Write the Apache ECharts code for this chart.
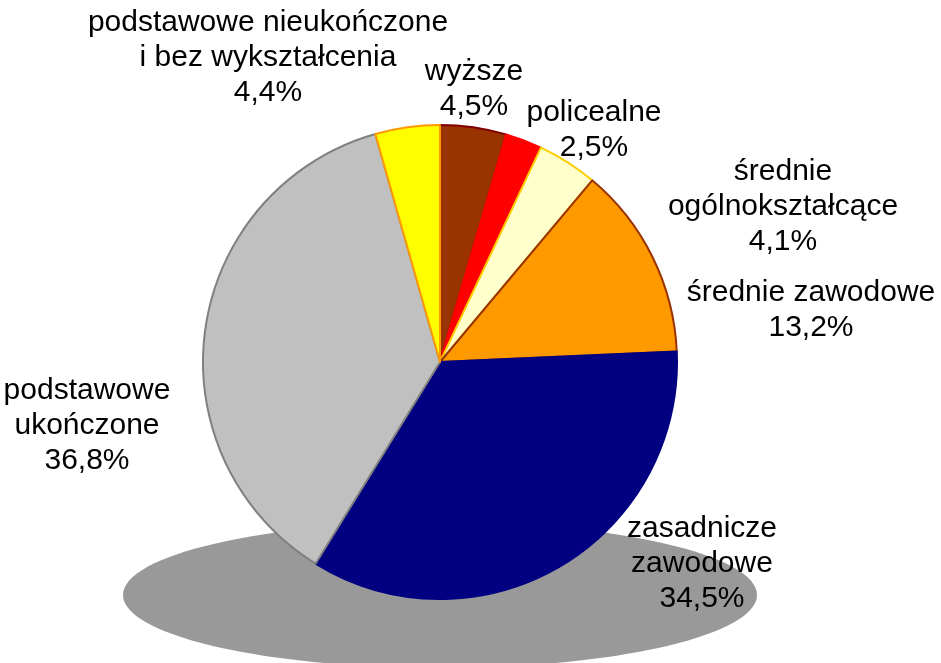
<!DOCTYPE html>
<html>
<head>
<meta charset="utf-8">
<script src="https://cdn.jsdelivr.net/npm/echarts@6/dist/echarts.min.js"></script>
<style>
  html, body { margin: 0; padding: 0; background: #fff; }
  #chart { width: 941px; height: 663px; }
</style>
</head>
<body>
<div id="chart"></div>
<script>
// kategorie (kolejnosc od godz. 12, zgodnie z ruchem wskazowek)
const categories = [
  'wyższe',
  'policealne',
  'średnie\nogólnokształcące',
  'średnie zawodowe',
  'zasadnicze\nzawodowe',
  'podstawowe\nukończone',
  'podstawowe nieukończone\ni bez wykształcenia'
]
const shares = [4.5, 2.5, 4.1, 13.2, 34.5, 36.8, 4.4]

const fillColors = ['#993300', '#ff0000', '#ffffcc', '#ff9900', '#000080', '#c0c0c0', '#ffff00']
const borderColors = ['#800000', '#ff0000', '#ffcc00', '#993300', '#000080', '#808080', '#ff9900']
// srodki etykiet (px)
const labelPos = [
  [474, 89], [594, 130], [783, 207], [811, 310], [702, 564], [87, 426], [268, 58]
]

const chart = echarts.init(document.getElementById('chart'))

const option = {
  animation: false,
  graphic: [
    {
      type: 'ellipse',
      z: -10,
      shape: { cx: 440, cy: 595, rx: 317, ry: 73 },
      style: { fill: '#999999' }
    }
  ],
  series: [
    {
      type: 'pie',
      center: [440, 362],
      radius: 237,
      startAngle: 90,
      clockwise: true,
      z: 2,
      data: categories.map((name, i) => ({
        name,
        value: shares[i],
        itemStyle: { color: fillColors[i], borderColor: borderColors[i], borderWidth: 2 }
      })),
      label: {
        show: true,
        position: 'outside',
        overflow: 'none',
        formatter: (p) => p.name + '\n' + p.value.toFixed(1).replace('.', ',') + '%',
        fontFamily: 'Liberation Sans, Arial, sans-serif',
        fontSize: 30,
        lineHeight: 35,
        color: '#000',
        align: 'center'
      },
      labelLine: { show: false },
      labelLayout: (params) => ({
        x: labelPos[params.dataIndex][0],
        y: labelPos[params.dataIndex][1],
        align: 'center',
        verticalAlign: 'middle'
      }),
      emphasis: { disabled: true }
    }
  ]
}

chart.setOption(option)
</script>
</body>
</html>
